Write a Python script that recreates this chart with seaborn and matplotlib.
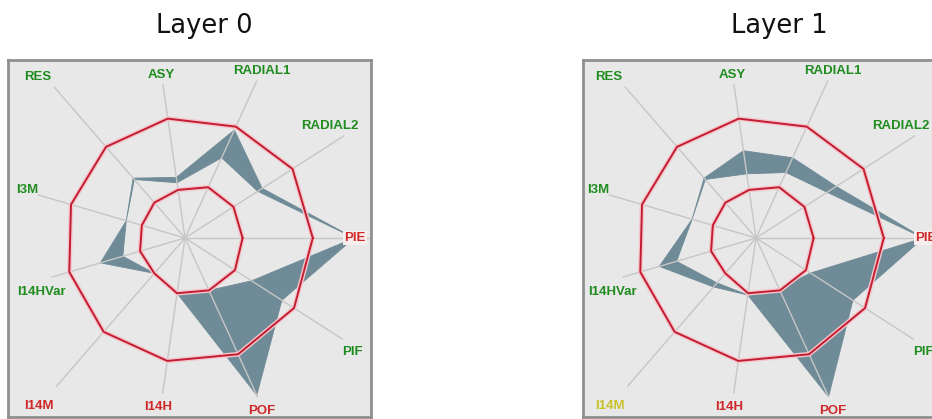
import numpy as np
import pandas as pd
import matplotlib
matplotlib.use("Agg")
import matplotlib.pyplot as plt
import seaborn as sns

# spokes, counter-clockwise starting from the right-hand one
features = ["PIE", "RADIAL2", "RADIAL1", "ASY", "RES", "I3M",
            "I14HVar", "I14M", "I14H", "POF", "PIF"]

# reference rings (shared by both layers)
ring_outer = [71, 71, 68, 67, 67, 66, 67, 69, 69, 71, 72]
ring_inner = [32, 32, 31, 27, 26, 25, 26, 26, 31, 32, 33]

# band edges per layer
layer0_hi = [94, 51, 66, 34, 44, 34, 49, 26, 31, 96, 64]
layer0_lo = [94, 48, 49, 31, 43, 34, 36, 26, 31, 32, 44]
layer1_hi = [93, 53, 49, 49, 44, 37, 56, 36, 32, 97, 64]
layer1_lo = [93, 47, 40, 36, 43, 37, 46, 33, 32, 31, 36]

layer0_status = ["bad", "ok", "ok", "ok", "ok", "ok", "ok", "bad", "bad", "bad", "ok"]
layer1_status = ["bad", "ok", "ok", "ok", "ok", "ok", "ok", "warn", "bad", "bad", "ok"]

titles = ["Layer 0", "Layer 1"]

# --- layout / style ---------------------------------------------------------
W, H = 932, 419
PX = 1.8                      # pixels per data unit on the radial scale
spoke_len = [102, 105, 96, 86, 111, 85, 77, 109, 87, 97, 104]
label_off = [(-14, 0), (-14, 10), (5, 10), (-2, 10), (-16, 10), (-11, 5),
             (-11, -15), (-18, -20), (-5, -14), (4, -14), (10, -13)]
status_color = {"ok": "#1f8c1f", "bad": "#d02828", "warn": "#c8c22a"}
BAND = "#6f8b97"
RING = "#c41c30"
HALO = "#f3c6cc"
SPOKE = "#c6c6c6"
BOX_BG = "#e8e8e8"

sns.set_theme(style="white")
plt.rcParams["font.family"] = ["DejaVu Sans"]

fig = plt.figure(figsize=(W / 100, H / 100), dpi=100)
fig.patch.set_facecolor("white")

theta = np.linspace(0, 2 * np.pi, len(features), endpoint=False)

panels = [
    dict(box_x=8, cx=185, title_x=204, hi=layer0_hi, lo=layer0_lo, status=layer0_status),
    dict(box_x=583, cx=756, title_x=779, hi=layer1_hi, lo=layer1_lo, status=layer1_status),
]

for title, p in zip(titles, panels):
    # grey framed box
    box = fig.add_axes([p["box_x"] / W, (H - 417) / H, 363 / W, 357 / H])
    box.set_facecolor(BOX_BG)
    box.set_xticks([]); box.set_yticks([])
    for s in box.spines.values():
        s.set_color("#8f8f8f"); s.set_linewidth(2)

    # radar on polar axes centred in the box
    D = 480
    cy = 238
    ax = fig.add_axes([(p["cx"] - D / 2) / W, (H - cy - D / 2) / H, D / W, D / H],
                      projection="polar")
    ax.set_theta_zero_location("E")
    ax.set_ylim(0, D / 2 / PX)
    ax.axis("off")

    # band between the two polygons, sector by sector
    n = len(features)
    for i in range(n):
        j = (i + 1) % n
        ax.fill([theta[i], theta[j], theta[j], theta[i]],
                [p["hi"][i], p["hi"][j], p["lo"][j], p["lo"][i]],
                color=BAND, lw=0.6, zorder=2)

    # spokes
    spokes = pd.DataFrame({
        "feature": np.repeat(features, 2),
        "theta": np.repeat(theta, 2),
        "r": np.ravel([[0, L] for L in spoke_len]),
    })
    sns.lineplot(data=spokes, x="theta", y="r", units="feature", estimator=None,
                 sort=False, color=SPOKE, lw=1, ax=ax, zorder=3)

    # red rings
    th_c = np.append(theta, theta[0])
    for ring in (ring_outer, ring_inner):
        rr = np.append(ring, ring[0])
        ax.plot(th_c, rr, color=HALO, lw=3.4, zorder=4, solid_joinstyle="miter")
        sns.lineplot(x=th_c, y=rr, sort=False, estimator=None, color=RING,
                     lw=1.4, ax=ax, zorder=5)
    ax.set_xlabel(""); ax.set_ylabel("")

    # spoke labels
    for k, name in enumerate(features):
        bbox = None
        if name == "PIE":
            bbox = dict(boxstyle="square,pad=0.1", fc="#f8eeee", ec="none")
        ax.annotate(name, xy=(theta[k], spoke_len[k]), xytext=label_off[k],
                    textcoords="offset pixels", ha="center", va="center",
                    fontsize=9.5, fontweight="bold", family="Liberation Sans",
                    color=status_color[p["status"][k]], bbox=bbox,
                    annotation_clip=False, zorder=6)

    fig.text(p["title_x"] / W, 1 - 33 / H, title, ha="center", va="baseline",
             fontsize=18.5, color="#111111")

fig.savefig("out.png", dpi=100)
